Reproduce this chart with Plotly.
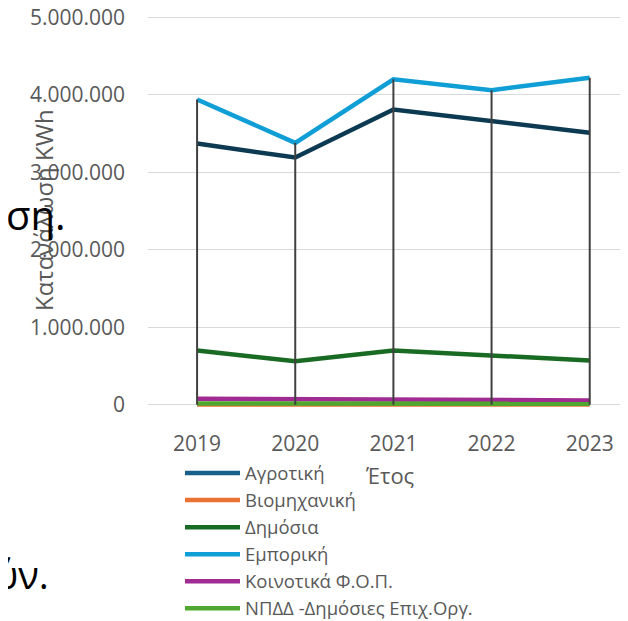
import plotly.graph_objects as go

years = ["2019", "2020", "2021", "2022", "2023"]
series_names = ["Αγροτική", "Βιομηχανική", "Δημόσια", "Εμπορική", "Κοινοτικά Φ.Ο.Π.", "ΝΠΔΔ -Δημόσιες Επιχ.Οργ."]
agrotiki = [3370000, 3190000, 3810000, 3660000, 3510000]
viomixaniki = [1500, 1500, 1200, 1200, 1000]
dimosia = [700000, 560000, 700000, 640000, 570000]
emporiki = [3940000, 3380000, 4200000, 4060000, 4220000]
koinotika = [77000, 75000, 64000, 60000, 55000]
npdd = [14000, 14000, 13000, 13000, 12000]
y_ticks = [0, 1000000, 2000000, 3000000, 4000000, 5000000]
y_ticktext = ["0", "1.000.000", "2.000.000", "3.000.000", "4.000.000", "5.000.000"]

values = [agrotiki, viomixaniki, dimosia, emporiki, koinotika, npdd]
line_colors = ["#0C3A52", "#E97132", "#196B24", "#0F9ED5", "#A02B93", "#4EA72E"]
legend_colors = ["#176088", "#E97132", "#196B24", "#0F9ED5", "#A02B93", "#4EA72E"]

FONT = "Open Sans"
GRAY = "#595959"

fig = go.Figure()
for name, vals, lc in zip(series_names, values, line_colors):
    fig.add_trace(go.Scatter(x=years, y=vals, mode="lines", name=name,
                             line=dict(color=lc, width=4.5), showlegend=False,
                             legendgroup=name))
for name, gc in zip(series_names, legend_colors):
    fig.add_trace(go.Scatter(x=[None], y=[None], mode="lines", name=name,
                             line=dict(color=gc, width=4.5), showlegend=True,
                             legendgroup=name))

# drop lines from highest value to zero
dx, dy = [], []
for i, yr in enumerate(years):
    top = max(v[i] for v in values)
    dx += [yr, yr, None]
    dy += [top, 0, None]
fig.add_trace(go.Scatter(x=dx, y=dy, mode="lines", line=dict(color="#404040", width=2),
                         showlegend=False, hoverinfo="skip"))

# page body has an 8px margin; figure is sized so it ends at the window edge
OFF = 8
W, H = 628 - OFF, 621 - OFF
L, R, T, B = 140, 0, 7, 214
pw = W - L - R
ph = H - T - B

def px_x(p):  # p in window pixels
    return (p - OFF - L) / pw

def px_y(p):
    return (H - B - (p - OFF)) / ph

fig.update_layout(
    width=W, height=H,
    margin=dict(l=L, r=R, t=T, b=B, pad=0, autoexpand=False),
    paper_bgcolor="white", plot_bgcolor="white",
    font=dict(family=FONT, color=GRAY, size=21),
    xaxis=dict(type="category", range=[-0.5, 4.39], showgrid=False, showline=False,
               zeroline=False, ticks="", tickfont=dict(size=21, color=GRAY),
               ticklabelstandoff=22, automargin=False),
    yaxis=dict(range=[-30000, 5030000], tickvals=y_ticks, ticktext=y_ticktext,
               showgrid=True, gridcolor="#D9D9D9", gridwidth=1.3, zeroline=False,
               showline=False, ticks="", tickfont=dict(size=21, color=GRAY),
               ticklabelstandoff=22, automargin=False, ticklabeloverflow="allow"),
    legend=dict(x=px_x(180), y=px_y(454.5), xanchor="left", yanchor="top",
                font=dict(size=18.5, color=GRAY, family=FONT), itemwidth=55,
                bgcolor="rgba(0,0,0,0)", tracegroupgap=0, traceorder="normal"),
    showlegend=True,
    annotations=[
        dict(text="Κατανάλωση KWh", textangle=-90, xref="paper", yref="paper",
             x=px_x(43), y=px_y(210), showarrow=False, xanchor="center", yanchor="middle",
             font=dict(size=24, color=GRAY, family=FONT)),
        dict(text="Έτος", xref="paper", yref="paper", x=px_x(390), y=px_y(475),
             showarrow=False, xanchor="center", yanchor="middle",
             font=dict(size=22, color=GRAY, family=FONT)),
        dict(text="ση.", xref="paper", yref="paper", x=px_x(4), y=px_y(214),
             showarrow=False, xanchor="left", yanchor="middle",
             font=dict(size=40, color="black", family=FONT)),
        dict(text="ύν.", xref="paper", yref="paper", x=px_x(51), y=px_y(574),
             showarrow=False, xanchor="right", yanchor="middle",
             font=dict(size=38, color="black", family=FONT)),
    ],
)

fig.write_html("out.html")
